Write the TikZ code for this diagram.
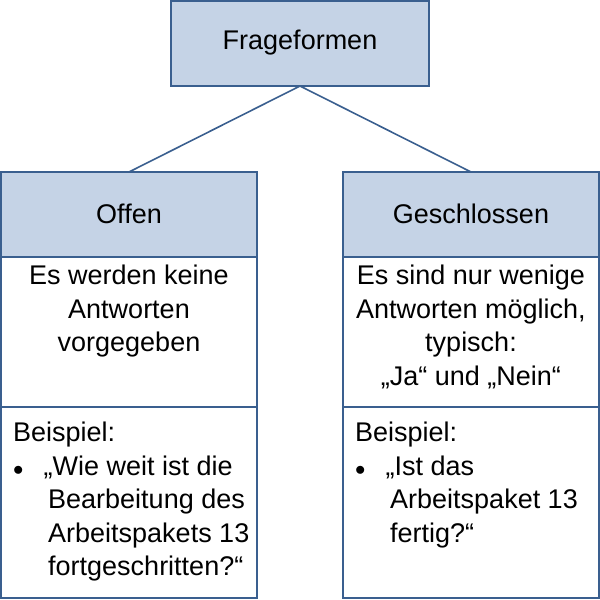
\documentclass[tikz,border=0pt]{standalone}
\usepackage{fontspec}
\setmainfont{Liberation Sans}
\definecolor{bfill}{HTML}{C5D3E6}
\definecolor{bline}{HTML}{3A5F8F}
\begin{document}
\begin{tikzpicture}[x=1pt,y=-1pt,
  box/.style={draw=bline,line width=1.6pt},
  hbox/.style={box,fill=bfill},
  txt/.style={font=\fontsize{27}{33.5}\selectfont,align=center,inner sep=0pt},
  ltxt/.style={font=\fontsize{27}{33.5}\selectfont,align=left,inner sep=0pt,anchor=north west}]
\useasboundingbox (0,0) rectangle (600,600);
\draw[hbox] (171,1) rectangle (429,86);
\node[txt] (top) at (300,43) {Frageformen};
\coordinate (tb) at (300,86);
% left
\draw[hbox] (1,172) rectangle (257,257);
\draw[box] (1,257) rectangle (257,407);
\draw[box] (1,407) rectangle (257,598);
\coordinate (lt) at (129,172);
\node[txt] (lh) at (129,214) {Offen};
\node[txt,anchor=north] (lm) at (129,265) {Es werden keine\\Antworten\\vorgegeben};
\node[ltxt] (lb) at (13,422) {Beispiel:\\{\fontsize{20}{20}\selectfont$\bullet$}\hspace{20pt}„Wie weit ist die\\\hspace{35pt}Bearbeitung des\\\hspace{35pt}Arbeitspakets 13\\\hspace{35pt}fortgeschritten?“};
% right
\draw[hbox] (343,172) rectangle (599,257);
\draw[box] (343,257) rectangle (599,407);
\draw[box] (343,407) rectangle (599,598);
\coordinate (rt) at (471,172);
\node[txt] (rh) at (471,214) {Geschlossen};
\node[txt,anchor=north] (rm) at (471,265) {Es sind nur wenige\\Antworten möglich,\\typisch:\\„Ja“ und „Nein“};
\node[ltxt] (rb) at (355,422) {Beispiel:\\{\fontsize{20}{20}\selectfont$\bullet$}\hspace{20pt}„Ist das\\\hspace{35pt}Arbeitspaket 13\\\hspace{35pt}fertig?“};
\draw[bline,line width=1.6pt] (tb) -- (lt) (tb) -- (rt);
\end{tikzpicture}
\end{document}
